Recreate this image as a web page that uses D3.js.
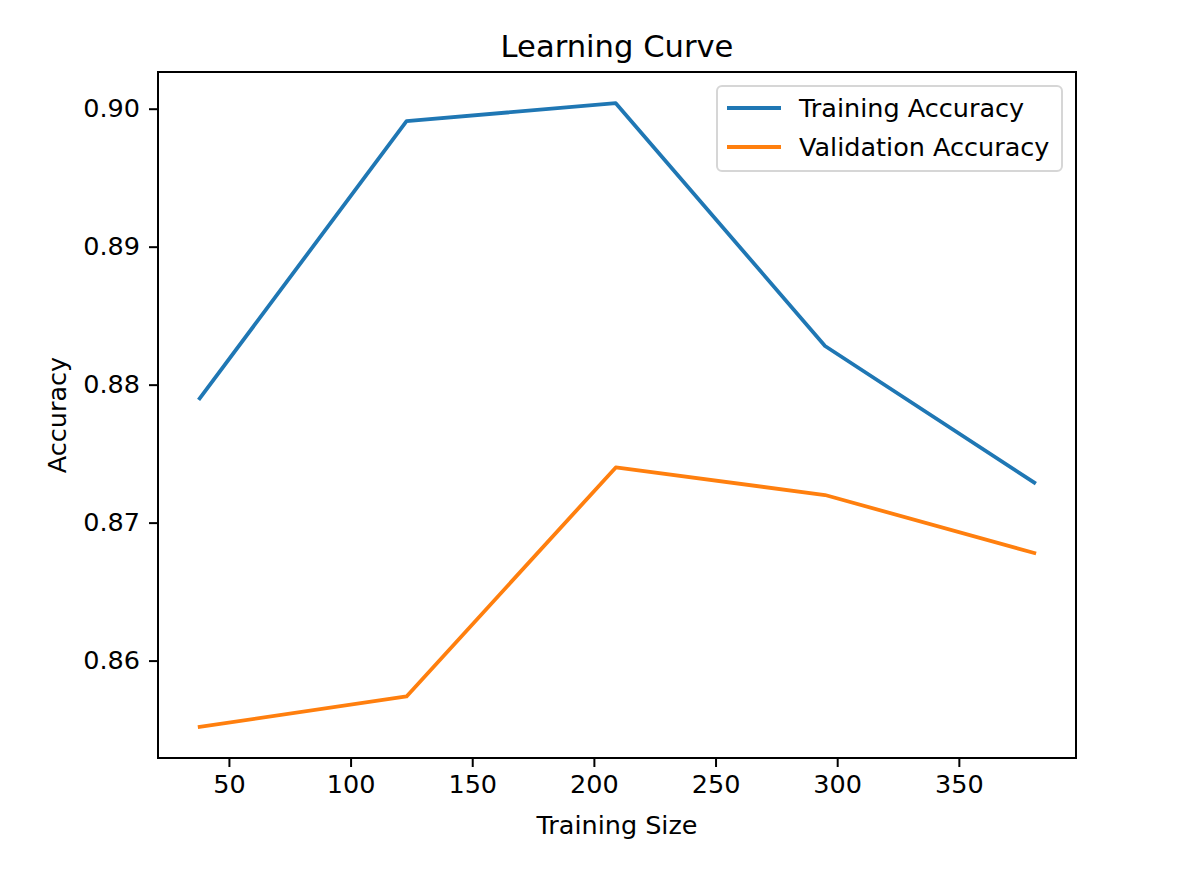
<!DOCTYPE html>
<html>
<head>
<meta charset="utf-8">
<script src="https://cdn.jsdelivr.net/npm/d3@7"></script>
<style>
  body { margin: 0; background: #fff; }
  text { font-family: "DejaVu Sans", sans-serif; fill: #000; }
</style>
</head>
<body>
<div id="chart"></div>
<script>
// Learning curve values
const trainSizes = [38, 123, 209, 295, 381];
const trainAcc = [0.8790, 0.8991, 0.9004, 0.8828, 0.8729];
const valAcc = [0.8552, 0.8574, 0.8740, 0.8720, 0.8678];
const xTicks = [50, 100, 150, 200, 250, 300, 350];
const yTicks = [0.86, 0.87, 0.88, 0.89, 0.90];
const seriesNames = ["Training Accuracy", "Validation Accuracy"];
const seriesColors = ["#1f77b4", "#ff7f0e"];

const width = 1186, height = 874;
const margin = { top: 72, right: 110, bottom: 116, left: 158 };
const innerW = width - margin.left - margin.right;
const innerH = height - margin.top - margin.bottom;

const svg = d3.select("#chart")
    .append("svg")
    .attr("width", width)
    .attr("height", height);

// matplotlib style 5% margins around the data
const xExt = d3.extent(trainSizes);
const xPad = (xExt[1] - xExt[0]) * 0.05;
const allY = trainAcc.concat(valAcc);
const yExt = d3.extent(allY);
const yPad = (yExt[1] - yExt[0]) * 0.05;

const x = d3.scaleLinear()
    .domain([xExt[0] - xPad, xExt[1] + xPad])
    .range([margin.left, margin.left + innerW]);

const y = d3.scaleLinear()
    .domain([yExt[0] - yPad, yExt[1] + yPad])
    .range([margin.top + innerH, margin.top]);

// Axes
const xAxis = svg.append("g")
    .attr("transform", `translate(0,${margin.top + innerH})`)
    .call(d3.axisBottom(x).tickValues(xTicks).tickSize(9).tickPadding(8).tickSizeOuter(0));

const yAxis = svg.append("g")
    .attr("transform", `translate(${margin.left},0)`)
    .call(d3.axisLeft(y).tickValues(yTicks).tickFormat(d3.format(".2f")).tickSize(9).tickPadding(9).tickSizeOuter(0));

[xAxis, yAxis].forEach(g => {
    g.select(".domain").remove();
    g.selectAll("line").attr("stroke", "#000").attr("stroke-width", 2);
    g.selectAll("text").attr("font-size", 25.5).attr("font-family", "DejaVu Sans").attr("fill", "#000");
});

// Lines
const line = d3.line()
    .x((d, i) => x(trainSizes[i]))
    .y(d => y(d));

[trainAcc, valAcc].forEach((vals, k) => {
    svg.append("path")
        .datum(vals)
        .attr("d", line)
        .attr("fill", "none")
        .attr("stroke", seriesColors[k])
        .attr("stroke-width", 3.8)
        .attr("stroke-linejoin", "round")
        .attr("stroke-linecap", "square");
});

// Frame
svg.append("rect")
    .attr("x", margin.left)
    .attr("y", margin.top)
    .attr("width", innerW)
    .attr("height", innerH)
    .attr("fill", "none")
    .attr("stroke", "#000")
    .attr("stroke-width", 2);

// Title and axis labels
svg.append("text")
    .attr("x", margin.left + innerW / 2)
    .attr("y", margin.top - 15)
    .attr("text-anchor", "middle")
    .attr("font-size", 30.6)
    .text("Learning Curve");

svg.append("text")
    .attr("x", margin.left + innerW / 2)
    .attr("y", 834)
    .attr("text-anchor", "middle")
    .attr("font-size", 25.5)
    .text("Training Size");

svg.append("text")
    .attr("transform", `translate(66,${margin.top + innerH / 2}) rotate(-90)`)
    .attr("text-anchor", "middle")
    .attr("font-size", 25.5)
    .text("Accuracy");

// Legend
const legend = svg.append("g").attr("transform", "translate(717,86)");
legend.append("rect")
    .attr("width", 345)
    .attr("height", 85)
    .attr("rx", 5)
    .attr("fill", "#fff")
    .attr("fill-opacity", 0.8)
    .attr("stroke", "#d6d6d6")
    .attr("stroke-width", 2);

seriesNames.forEach((name, i) => {
    const row = legend.append("g").attr("transform", `translate(0,${22 + i * 39})`);
    row.append("line")
        .attr("x1", 10).attr("x2", 64)
        .attr("stroke", seriesColors[i])
        .attr("stroke-width", 3.8);
    row.append("text")
        .attr("x", 82)
        .attr("y", 9)
        .attr("font-size", 25.5)
        .text(name);
});
</script>
</body>
</html>
